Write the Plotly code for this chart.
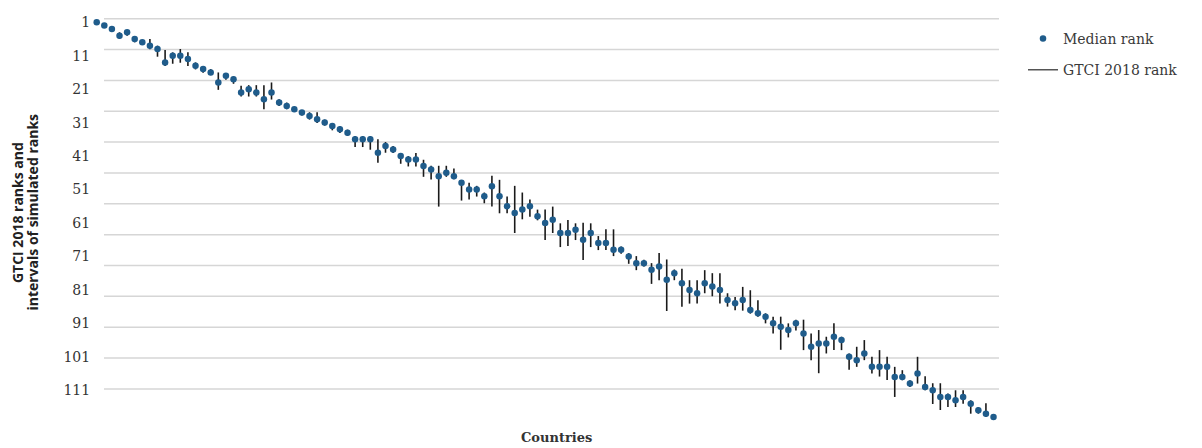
import numpy as np
import plotly.graph_objects as go

# Countries in GTCI 2018 rank order (x position = GTCI 2018 rank)
countries = list(range(1, 120))

median_rank = [1, 2, 3, 5, 4, 6, 7, 8, 9, 13,
               11, 11, 12, 14, 15, 16, 19, 17, 18, 22,
               21, 22, 24, 22, 25, 26, 27, 28, 29, 30,
               31, 32, 33, 34, 36, 36, 36, 40, 38, 39,
               41, 42, 42, 44, 45, 47, 46, 47, 49, 51,
               51, 53, 50, 53, 56, 58, 57, 56, 59, 61,
               60, 64, 64, 63, 66, 64, 67, 67, 69, 69,
               71, 73, 73, 75, 74, 78, 76, 79, 81, 82,
               79, 80, 81, 84, 85, 84, 87, 88, 89, 91,
               92, 93, 91, 94, 98, 97, 97, 95, 96, 101,
               102, 100, 104, 104, 104, 107, 107, 109, 106, 110,
               111, 113, 113, 114, 113, 115, 117, 118, 119]

interval_low = [1, 2, 3, 4, 3.5, 5.5, 6.3, 6, 8, 9.3,
                10, 9, 10, 13, 14.3, 15, 16, 16.2, 17.2, 20,
                19.8, 19.8, 19.8, 19, 24, 25, 26.3, 27.3, 27.9, 27.9,
                30.1, 31.3, 32.1, 33.1, 35, 35, 35, 36, 36.8, 38,
                40.1, 41, 40.1, 42.1, 43.9, 43.9, 43.9, 44.7, 48.2, 49,
                49.9, 51.9, 46.9, 48.1, 53.1, 49.9, 51.9, 54, 57, 57,
                56.1, 61.1, 60.1, 61.1, 60.9, 61.1, 64.9, 62.9, 62.9, 68,
                70, 70.9, 72, 73, 70, 71.9, 74.9, 74.7, 78.1, 78.1,
                75.1, 76, 76, 82, 83.1, 80.1, 81.1, 84.1, 88, 89,
                89, 91, 89.9, 89.9, 94, 93, 95, 91, 95, 100,
                98, 96, 101, 99, 101, 104, 105, 108, 101, 106.8,
                108.9, 108.9, 112, 111, 111, 114, 116, 114.9, 119]

interval_high = [1, 2, 3, 6, 5, 7, 7.5, 9.1, 11.3, 14.1,
                 13.4, 13.1, 14.1, 15.1, 16.1, 16.8, 21.2, 18.2, 19.4, 23.2,
                 23.2, 23.2, 27, 24.1, 26, 27, 27.8, 28.9, 30.1, 31.1,
                 31.9, 33.3, 34.1, 35, 38.3, 38.3, 39.1, 43, 40, 40.1,
                 43.3, 44.1, 44.1, 47.2, 48, 56.1, 47.2, 47.9, 54.3, 54,
                 53.1, 55.1, 56.1, 58.1, 58.1, 64, 59.9, 59.1, 60.2, 66.1,
                 64, 68.2, 67.9, 66.1, 72.1, 68.2, 69.1, 69.1, 70.9, 70.2,
                 73.2, 75.1, 74, 79.2, 78.1, 87.3, 78.1, 86, 85.1, 85.1,
                 82, 82.9, 85.1, 86, 87.1, 87.2, 88.1, 89, 91, 94,
                 98.9, 95.2, 93.1, 99, 102, 105.9, 100, 99, 99, 104.9,
                 104, 102, 106, 106.9, 107.9, 113, 108, 110, 109, 111,
                 115.1, 116.9, 116, 116, 115, 118, 118, 119, 119]

y_tick_vals = [1, 11, 21, 31, 41, 51, 61, 71, 81, 91, 101, 111]
grid_ranks = list(np.linspace(-0.07, 110.6, 13))

med = np.array(median_rank, dtype=float)
err_plus = (np.array(interval_high) - med).tolist()
err_minus = (med - np.array(interval_low)).tolist()

DOT = "#1f5c8b"
Y_RANGE = [121.68, -0.57]
X_RANGE = [0.776, 119.72]
PLOT_W, PLOT_H = 904, 412
GRID_X0 = 9 / PLOT_W  # gridlines start slightly right of the first country

fig = go.Figure()

fig.add_trace(go.Scatter(
    x=countries, y=median_rank, mode="markers", name="Median rank",
    legendgroup="a",
    marker=dict(color=DOT, size=6.5, line=dict(width=0)),
    error_y=dict(type="data", symmetric=False, array=err_plus,
                 arrayminus=err_minus, color="#1a1a1a", thickness=1.6, width=0),
    cliponaxis=False,
))

fig.add_trace(go.Scatter(
    x=[None], y=[None], mode="lines", name="GTCI 2018 rank",
    legendgroup="b",
    line=dict(color="#555555", width=1.5),
))

shapes = [dict(type="line", xref="paper", yref="y", x0=GRID_X0, x1=1,
               y0=g, y1=g, layer="below",
               line=dict(color="#d6d6d6", width=1.5)) for g in grid_ranks]

# page body has an 8px default margin; figure is sized/margined to compensate
fig.update_layout(
    width=1194, height=440,
    margin=dict(l=87, r=203, t=6, b=22),
    paper_bgcolor="white", plot_bgcolor="white",
    showlegend=True,
    shapes=shapes,
    legend=dict(
        x=(1023 - 95) / PLOT_W, xanchor="left", y=1 - 6 / PLOT_H, yanchor="top",
        font=dict(family="DejaVu Serif", size=14, color="#3a3a3a"),
        traceorder="grouped", tracegroupgap=10,
        bgcolor="rgba(0,0,0,0)",
    ),
    xaxis=dict(range=X_RANGE, showticklabels=False, showgrid=False,
               zeroline=False, showline=False, ticks=""),
    yaxis=dict(range=Y_RANGE, autorange=False, tickmode="array",
               tickvals=y_tick_vals, ticktext=[str(v) for v in y_tick_vals],
               showgrid=False, zeroline=False, showline=False,
               ticks="outside", ticklen=1, tickcolor="rgba(0,0,0,0)",
               tickfont=dict(family="DejaVu Serif", size=14, color="#333333")),
    annotations=[
        dict(text="<b>GTCI 2018 ranks and</b>", textangle=-90, showarrow=False,
             xref="paper", yref="paper", x=(17.5 - 95) / PLOT_W,
             y=1 - (211 - 14) / PLOT_H, xanchor="center", yanchor="middle",
             font=dict(family="Open Sans", size=14, color="#222222")),
        dict(text="<b>intervals of simulated ranks</b>", textangle=-90, showarrow=False,
             xref="paper", yref="paper", x=(33 - 95) / PLOT_W,
             y=1 - (211 - 14) / PLOT_H, xanchor="center", yanchor="middle",
             font=dict(family="Open Sans", size=14, color="#222222")),
        dict(text="<b>Countries</b>", showarrow=False,
             xref="paper", yref="paper", x=(556 - 95) / PLOT_W,
             y=-(438 - 426) / PLOT_H, xanchor="center", yanchor="middle",
             font=dict(family="DejaVu Serif", size=13, color="#333333")),
    ],
)

fig.write_html("out.html")
